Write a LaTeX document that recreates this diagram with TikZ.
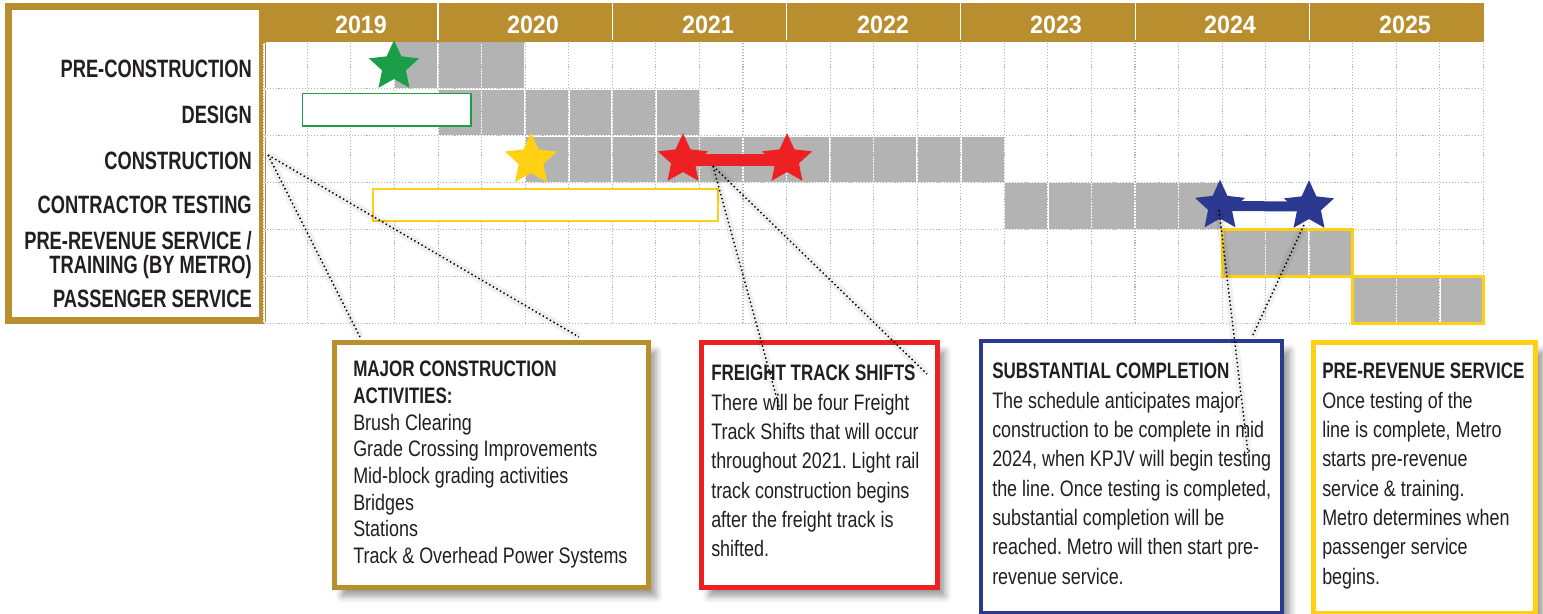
\documentclass[tikz,border=0pt]{standalone}
\usepackage{fontspec}
\setmainfont{Liberation Sans}
\newfontfamily\labelfont[FakeStretch=0.73]{Liberation Sans}
\newfontfamily\titlefont[FakeStretch=0.76]{Liberation Sans}
\newfontfamily\bodyfont[FakeStretch=0.8]{Liberation Sans}
\newfontfamily\yearfont[FakeStretch=0.93]{Liberation Sans}
\usetikzlibrary{shapes.geometric,shadows.blur}
\frenchspacing

\definecolor{mgold}{RGB}{184,142,46}
\definecolor{mgray}{RGB}{179,179,179}
\definecolor{mgreen}{RGB}{26,158,72}
\definecolor{myellow}{RGB}{255,208,20}
\definecolor{mred}{RGB}{237,32,36}
\definecolor{mblue}{RGB}{44,57,144}
\definecolor{mtext}{RGB}{35,31,32}

\tikzset{
  rowlabel/.style={inner sep=0pt, text=mtext, align=right, font=\labelfont\bfseries\fontsize{18.8}{18}\selectfont},
  yearlabel/.style={anchor=base, inner sep=0pt, text=white, font=\yearfont\bfseries\fontsize{18.8}{20}\selectfont},
  milestone/.style={star, star points=5, star point ratio=2.1, minimum size=39.5pt, inner sep=0pt, fill=#1, draw=none},
  callout/.style={draw=#1, fill=white, anchor=north west, inner sep=0pt,
    blur shadow={shadow xshift=6pt, shadow yshift=-7pt, shadow blur radius=5pt, shadow opacity=40}},
  callouttext/.style={anchor=north west, inner sep=0pt, align=left, text=mtext, font=\bodyfont\fontsize{16.8}{22}\selectfont},
  leader/.style={draw=black, line width=1.1pt, dash pattern=on 1.1pt off 2pt},
  leadershade/.style={draw=black, opacity=0.06, line width=6pt}
}

\begin{document}
\begin{tikzpicture}[x=0.75pt,y=0.75pt,yscale=-1,xscale=1]
\useasboundingbox (0,0) rectangle (1543,614);

%Shape: Rectangle [header band]
\fill[mgold] (262,3) rectangle (1483.5,42);
%Straight Lines [year dividers]
\draw[white, line width=0.8pt] (438,3) -- (438,40) (612.4,3) -- (612.4,40) (786.6,3) -- (786.6,40) (960.9,3) -- (960.9,40) (1135.1,3) -- (1135.1,40) (1309.4,3) -- (1309.4,40);
%Shape: Rectangle [label panel]
\draw[mgold, line width=5.25pt, fill=white] (8.5,6.5) rectangle (262.5,320.5);

%Shape: Rectangle [gray bars]
\fill[mgray] (394.5,42) rectangle (525.2,88.85);
\fill[mgray] (438,88.85) rectangle (699.4,135.7);
\fill[mgray] (525.2,135.7) rectangle (1004.3,182.55);
\fill[mgray] (1004.3,182.55) rectangle (1222.1,229.4);
\fill[mgray] (1222.1,229.4) rectangle (1352.8,276.25);
\fill[mgray] (1352.8,276.25) rectangle (1483.5,323.1);

%Grid [dotted months]
\begin{scope}[shift={(263.8,42)}]
\draw[white, line width=1.2pt] (0,1) grid[xstep=32.67pt, ystep=35.14pt] (1219.8,281.2);
\draw[gray!60, line width=0.8pt, dash pattern=on 0.8pt off 1.4pt] (0,1) grid[xstep=32.67pt, ystep=35.14pt] (1219.8,281.2);
\end{scope}

%Shape: Rectangle [planned design]
\draw[mgreen, line width=1.2pt, fill=white] (302.3,93.3) rectangle (470.7,126);
%Shape: Rectangle [planned testing]
\draw[myellow, line width=1.2pt, fill=white] (373,189) rectangle (718,221);
%Shape: Rectangle [yellow outlines]
\draw[myellow, line width=2.2pt] (1222.1,229.4) rectangle (1352.8,276.25);
\draw[myellow, line width=2.2pt] (1352.8,276.25) rectangle (1483.5,323.1);

% Stars
\node[milestone=mgreen] (greenstar) at (394,66.5) {};
\node[milestone=myellow, minimum size=41pt] (yellowstar) at (531,160) {};
\node[milestone=mred] (redstarA) at (683,159.5) {};
\node[milestone=mred] (redstarB) at (787,159.5) {};
\node[milestone=mblue] (bluestarA) at (1220,206) {};
\node[milestone=mblue] (bluestarB) at (1309,206.5) {};
%Straight Lines [star bars]
\draw[mred, line width=9pt] (redstarA.center) -- (redstarB.center);
\draw[mblue, line width=7.5pt] (bluestarA.center) -- (bluestarB.center);

% Text Node
\node[rowlabel, anchor=base east] (preconlabel) at (252,77.3) {PRE-CONSTRUCTION};
% Text Node
\node[rowlabel, anchor=base east] (designlabel) at (252,123) {DESIGN};
% Text Node
\node[rowlabel, anchor=base east] (constrlabel) at (252,169) {CONSTRUCTION};
% Text Node
\node[rowlabel, anchor=base east] (testlabel) at (252,213) {CONTRACTOR TESTING};
% Text Node
\node[rowlabel, anchor=north east] (prerevlabel) at (252,231) {PRE-REVENUE SERVICE /\\TRAINING (BY METRO)};
% Text Node
\node[rowlabel, anchor=base east] (passlabel) at (252,307) {PASSENGER SERVICE};

% Text Node
\node[yearlabel] (y2019) at (361,33.3) {2019};
\node[yearlabel] (y2020) at (533,33.3) {2020};
\node[yearlabel] (y2021) at (708,33.3) {2021};
\node[yearlabel] (y2022) at (883,33.3) {2022};
\node[yearlabel] (y2023) at (1056,33.3) {2023};
\node[yearlabel] (y2024) at (1230,33.3) {2024};
\node[yearlabel] (y2025) at (1405,33.3) {2025};

% Callout boxes
\node[callout=mgold, line width=3.75pt, minimum width=235.5pt, minimum height=183.75pt] (majorbox) at (331.5,339.5) {};
\node[callout=mred, line width=3.75pt, minimum width=177pt, minimum height=183.75pt] (freightbox) at (698.5,339.5) {};
\node[callout=mblue, line width=3pt, minimum width=225.75pt, minimum height=204pt] (substbox) at (979,339) {};
\node[callout=myellow, line width=3.75pt, minimum width=166.9pt, minimum height=203.25pt] (prerevbox) at (1310.5,339.5) {};

% Text Node
\node[callouttext, font=\bodyfont\fontsize{16.8}{20}\selectfont] (majortext) at (353,361) {{\titlefont\bfseries MAJOR CONSTRUCTION}\\{\titlefont\bfseries ACTIVITIES:}\\Brush Clearing\\Grade Crossing Improvements\\Mid-block grading activities\\Bridges\\Stations\\Track \& Overhead Power Systems};
% Text Node
\node[callouttext] (freighttext) at (711,365) {{\titlefont\bfseries FREIGHT TRACK SHIFTS}\\There will be four Freight\\Track Shifts that will occur\\throughout 2021. Light rail\\track construction begins\\after the freight track is\\shifted.};
% Text Node
\node[callouttext] (substtext) at (992,363) {{\titlefont\bfseries SUBSTANTIAL COMPLETION}\\The schedule anticipates major\\construction to be complete in mid\\2024, when KPJV will begin testing\\the line. Once testing is completed,\\substantial completion will be\\reached. Metro will then start pre-\\revenue service.};
% Text Node
\node[callouttext] (prerevtext) at (1322,363) {{\titlefont\bfseries PRE-REVENUE SERVICE}\\Once testing of the\\line is complete, Metro\\starts pre-revenue\\service \& training.\\Metro determines when\\passenger service\\begins.};

% Leader ends
\coordinate (constrpt) at (268,155);
\coordinate (majorend1) at (360,337);
\coordinate (majorend2) at (579,337);
\coordinate (freightpt) at (713,166);
\coordinate (freightend1) at (780,410);
\coordinate (freightend2) at (927,374);
\coordinate (substpt1) at (1219,210);
\coordinate (substend1) at (1248,453);
\coordinate (substpt2) at (1304,225);
\coordinate (substend2) at (1252,337);

%Straight Lines [leader shading]
\draw[leadershade] (constrpt) -- (majorend1) (constrpt) -- (majorend2);
\draw[leadershade] (freightpt) -- (freightend1) (freightpt) -- (freightend2);
\draw[leadershade] (substpt1) -- (substend1) (substpt2) -- (substend2);
%Straight Lines [leaders]
\draw[leader] (constrpt) -- (majorend1);
\draw[leader] (constrpt) -- (majorend2);
\draw[leader] (freightpt) -- (freightend1);
\draw[leader] (freightpt) -- (freightend2);
\draw[leader] (substpt1) -- (substend1);
\draw[leader] (substpt2) -- (substend2);

\end{tikzpicture}
\end{document}
